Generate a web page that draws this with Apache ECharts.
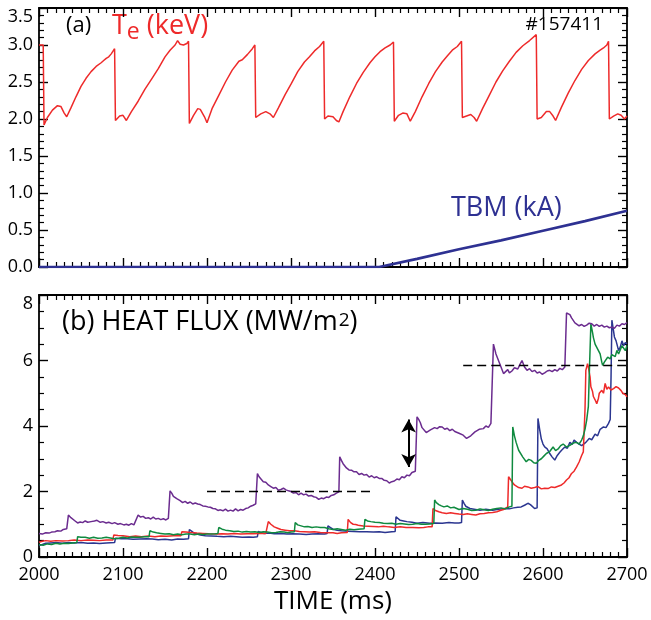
<!DOCTYPE html>
<html>
<head>
<meta charset="utf-8">
<script src="https://cdn.jsdelivr.net/npm/echarts@6/dist/echarts.min.js"></script>
<style>html,body{margin:0;padding:0;background:#fff}#chart{width:651px;height:620px}</style>
</head>
<body>
<div id="chart"></div>
<script>
// ---------- DATA ----------
const teData = [[2000,3.0],[2005,3.0],[2006,1.92],[2010,2.02],[2016,2.12],[2022,2.18],[2026,2.17],[2030,2.08],[2033,2.03],[2038,2.15],[2044,2.3],[2050,2.44],[2056,2.55],[2062,2.64],[2068,2.71],[2074,2.76],[2077,2.79],[2080,2.82],[2083,2.84],[2086,2.88],[2090,2.95],[2091,1.98],[2096,2.04],[2100,2.05],[2104,1.98],[2110,2.1],[2118,2.24],[2126,2.4],[2134,2.54],[2142,2.68],[2150,2.84],[2156,2.93],[2162,3.0],[2165,3.06],[2168,3.01],[2172,3.0],[2176,3.02],[2178,3.05],[2179,1.94],[2184,2.05],[2189,2.14],[2192,2.13],[2197,2.03],[2200,1.95],[2206,2.14],[2214,2.32],[2222,2.5],[2230,2.66],[2238,2.78],[2242,2.8],[2248,2.87],[2254,2.95],[2257,3.0],[2258,2.02],[2264,2.07],[2270,2.1],[2275,2.07],[2279,2.02],[2285,2.15],[2293,2.33],[2300,2.47],[2308,2.64],[2316,2.77],[2322,2.84],[2328,2.92],[2334,2.98],[2339,3.05],[2340,2.0],[2344,2.04],[2350,2.03],[2354,1.98],[2357,1.96],[2362,2.1],[2370,2.3],[2378,2.48],[2386,2.63],[2394,2.76],[2400,2.84],[2406,2.91],[2412,2.96],[2418,3.0],[2422,3.04],[2423,1.97],[2428,2.05],[2433,2.08],[2438,2.07],[2442,1.97],[2448,2.1],[2456,2.3],[2464,2.48],[2472,2.64],[2480,2.77],[2486,2.85],[2492,2.93],[2498,2.98],[2503,3.05],[2504,2.02],[2509,2.04],[2514,2.06],[2518,2.02],[2521,1.97],[2528,2.14],[2536,2.32],[2544,2.5],[2552,2.65],[2560,2.78],[2568,2.9],[2576,2.99],[2584,3.06],[2592,3.14],[2593,2.0],[2598,2.02],[2604,2.1],[2608,2.1],[2612,2.04],[2615,1.98],[2622,2.16],[2630,2.35],[2638,2.52],[2646,2.67],[2654,2.79],[2662,2.88],[2668,2.93],[2672,2.96],[2676,3.0],[2678,3.05],[2679,2.0],[2684,2.04],[2689,2.07],[2693,2.05],[2697,2.0],[2700,2.04]];

const tbmData = [[2000,0],[2100,0],[2200,0],[2300,0],[2405,0],[2450,0.11],[2500,0.24],[2550,0.36],[2600,0.49],[2650,0.62],[2700,0.76]];

const purpleData = [[2000,0.72],[2004,0.7],[2008,0.74],[2012,0.73],[2015,0.76],[2019,0.77],[2022,0.8],[2026,0.79],[2029,0.84],[2033,0.86],[2035,1.28],[2038,1.2],[2043,1.1],[2046,1.04],[2049,1.07],[2052,1.05],[2055,1.1],[2058,1.06],[2062,1.08],[2066,1.1],[2069,1.12],[2073,1.06],[2076,1.08],[2080,1.04],[2083,1.06],[2087,1.02],[2090,1.05],[2094,1.0],[2097,1.02],[2101,0.98],[2104,1.0],[2107,0.97],[2110,1.02],[2113,0.98],[2115,1.0],[2118,1.28],[2121,1.22],[2124,1.24],[2127,1.18],[2130,1.2],[2133,1.16],[2136,1.22],[2139,1.16],[2142,1.18],[2145,1.14],[2148,1.17],[2151,1.13],[2154,1.18],[2156,2.02],[2158,1.95],[2160,1.85],[2164,1.78],[2166,1.72],[2168,1.72],[2171,1.66],[2174,1.7],[2177,1.64],[2180,1.68],[2183,1.62],[2186,1.65],[2189,1.62],[2192,1.6],[2195,1.56],[2198,1.55],[2201,1.53],[2204,1.52],[2207,1.48],[2210,1.47],[2213,1.42],[2216,1.44],[2219,1.41],[2222,1.46],[2225,1.4],[2228,1.43],[2231,1.4],[2234,1.47],[2237,1.41],[2240,1.45],[2243,1.43],[2246,1.48],[2249,1.5],[2252,1.55],[2255,1.58],[2258,1.62],[2260,2.55],[2262,2.45],[2264,2.4],[2267,2.3],[2270,2.28],[2273,2.2],[2276,2.15],[2279,2.1],[2282,2.12],[2285,2.04],[2288,2.06],[2291,2.1],[2294,2.05],[2297,2.02],[2300,2.0],[2303,1.95],[2306,1.97],[2309,1.9],[2312,1.95],[2315,1.9],[2318,1.92],[2321,1.86],[2324,1.88],[2327,1.84],[2330,1.82],[2333,1.76],[2336,1.8],[2339,1.78],[2342,1.83],[2345,1.82],[2348,1.88],[2351,1.9],[2354,1.95],[2357,1.99],[2358,3.06],[2360,2.95],[2362,2.85],[2366,2.72],[2369,2.66],[2372,2.65],[2375,2.6],[2378,2.6],[2381,2.52],[2384,2.55],[2387,2.5],[2390,2.52],[2393,2.44],[2396,2.48],[2399,2.42],[2402,2.45],[2405,2.4],[2408,2.4],[2411,2.34],[2414,2.33],[2417,2.26],[2420,2.3],[2423,2.32],[2426,2.38],[2429,2.36],[2432,2.45],[2435,2.42],[2438,2.5],[2441,2.48],[2444,2.58],[2446,2.52],[2448,2.62],[2450,4.28],[2452,4.2],[2454,4.1],[2456,3.95],[2458,3.9],[2461,3.8],[2463,3.77],[2466,3.88],[2468,3.85],[2471,3.95],[2474,3.92],[2477,3.98],[2480,3.97],[2483,3.9],[2486,3.93],[2489,3.86],[2492,3.9],[2495,3.83],[2497,3.87],[2500,3.78],[2502,3.75],[2505,3.72],[2507,3.68],[2509,3.62],[2511,3.6],[2514,3.7],[2516,3.75],[2519,3.82],[2521,3.88],[2524,3.9],[2526,3.95],[2529,3.92],[2532,4.0],[2535,3.96],[2538,4.08],[2540,4.05],[2541,6.5],[2543,6.3],[2544,6.2],[2547,6.0],[2549,5.95],[2550,5.8],[2553,5.6],[2555,5.66],[2558,5.72],[2560,5.62],[2563,5.68],[2566,5.78],[2568,5.82],[2570,5.74],[2572,5.85],[2575,6.0],[2578,5.8],[2581,5.7],[2584,5.75],[2587,5.66],[2590,5.7],[2593,5.62],[2596,5.65],[2599,5.58],[2602,5.62],[2605,5.68],[2608,5.7],[2611,5.66],[2614,5.72],[2617,5.68],[2620,5.76],[2623,5.72],[2626,5.8],[2628,7.45],[2630,7.42],[2632,7.4],[2634,7.3],[2636,7.25],[2638,7.15],[2640,7.12],[2643,7.06],[2646,7.1],[2649,7.04],[2652,7.08],[2655,7.14],[2658,7.12],[2661,7.05],[2664,7.1],[2667,7.04],[2670,7.08],[2673,7.02],[2676,7.05],[2679,7.0],[2682,7.02],[2685,6.98],[2688,7.08],[2691,7.05],[2694,7.12],[2697,7.1],[2700,7.16]];

const greenData = [[2000,0.38],[2005,0.36],[2010,0.4],[2015,0.38],[2020,0.42],[2025,0.4],[2030,0.42],[2035,0.41],[2040,0.43],[2045,0.44],[2046,0.62],[2050,0.6],[2055,0.6],[2060,0.57],[2065,0.6],[2070,0.57],[2075,0.58],[2080,0.6],[2085,0.58],[2090,0.56],[2095,0.57],[2100,0.6],[2105,0.58],[2110,0.61],[2115,0.6],[2120,0.6],[2125,0.62],[2131,0.62],[2132,0.8],[2136,0.76],[2140,0.74],[2145,0.72],[2150,0.7],[2155,0.71],[2160,0.68],[2165,0.7],[2170,0.68],[2175,0.7],[2180,0.7],[2185,0.68],[2190,0.7],[2195,0.69],[2200,0.7],[2205,0.7],[2210,0.71],[2213,0.72],[2214,0.9],[2218,0.85],[2222,0.82],[2227,0.8],[2232,0.78],[2237,0.79],[2242,0.76],[2247,0.78],[2252,0.76],[2257,0.77],[2262,0.75],[2267,0.77],[2272,0.76],[2277,0.74],[2282,0.75],[2287,0.77],[2292,0.76],[2296,0.74],[2300,0.76],[2304,0.77],[2305,1.05],[2308,0.98],[2312,0.95],[2316,0.92],[2320,0.93],[2325,0.9],[2330,0.92],[2335,0.9],[2340,0.9],[2345,0.86],[2350,0.84],[2355,0.86],[2360,0.84],[2365,0.82],[2370,0.85],[2375,0.83],[2380,0.85],[2387,0.86],[2388,1.15],[2391,1.1],[2395,1.08],[2400,1.06],[2405,1.05],[2410,1.03],[2415,1.02],[2420,1.03],[2425,1.0],[2430,1.02],[2435,1.01],[2440,0.99],[2445,1.0],[2450,1.02],[2455,1.0],[2460,1.0],[2465,1.01],[2470,1.02],[2471,1.74],[2473,1.66],[2476,1.6],[2479,1.56],[2482,1.53],[2486,1.56],[2490,1.5],[2494,1.52],[2500,1.45],[2505,1.48],[2510,1.46],[2515,1.42],[2520,1.43],[2525,1.47],[2530,1.44],[2535,1.42],[2540,1.46],[2545,1.48],[2550,1.5],[2555,1.47],[2560,1.53],[2563,1.55],[2564,3.97],[2566,3.7],[2568,3.5],[2571,3.26],[2573,3.2],[2576,3.05],[2578,3.0],[2580,2.91],[2583,2.98],[2586,2.95],[2589,2.88],[2592,2.86],[2595,2.95],[2598,3.0],[2601,3.08],[2604,3.16],[2608,3.22],[2612,3.36],[2615,3.25],[2618,3.3],[2621,3.4],[2624,3.45],[2628,3.36],[2632,3.41],[2636,3.48],[2640,3.5],[2643,3.45],[2646,3.57],[2648,3.7],[2650,3.9],[2652,4.18],[2654,4.6],[2655,5.5],[2657,7.12],[2659,6.85],[2660,6.7],[2662,6.5],[2664,6.45],[2666,6.3],[2668,6.2],[2670,5.95],[2671,5.85],[2673,5.95],[2675,6.0],[2677,6.1],[2680,6.05],[2682,6.18],[2684,6.2],[2686,6.12],[2688,6.31],[2690,6.2],[2692,6.25],[2694,6.45],[2696,6.4],[2698,6.3],[2700,6.46]];

const redData = [[2000,0.45],[2004,0.48],[2008,0.5],[2014,0.48],[2020,0.5],[2028,0.49],[2035,0.5],[2042,0.52],[2050,0.5],[2058,0.52],[2065,0.51],[2072,0.5],[2080,0.52],[2088,0.52],[2089,0.67],[2094,0.66],[2100,0.65],[2108,0.62],[2115,0.64],[2122,0.62],[2130,0.64],[2138,0.62],[2145,0.64],[2152,0.63],[2160,0.65],[2169,0.65],[2170,0.77],[2175,0.76],[2180,0.75],[2188,0.73],[2195,0.72],[2202,0.71],[2210,0.7],[2218,0.71],[2225,0.7],[2232,0.72],[2240,0.7],[2248,0.71],[2255,0.71],[2262,0.72],[2270,0.72],[2272,0.73],[2273,1.08],[2276,1.0],[2280,0.92],[2284,0.88],[2288,0.84],[2293,0.82],[2298,0.8],[2304,0.8],[2310,0.78],[2316,0.77],[2322,0.76],[2328,0.77],[2335,0.75],[2342,0.74],[2350,0.74],[2355,0.72],[2360,0.74],[2367,0.75],[2368,1.15],[2371,1.05],[2374,1.0],[2377,0.99],[2380,0.97],[2386,0.95],[2392,0.94],[2398,0.93],[2404,0.92],[2410,0.94],[2416,0.92],[2423,0.9],[2430,0.92],[2437,0.9],[2445,0.9],[2452,0.89],[2458,0.9],[2463,0.92],[2468,0.92],[2469,1.48],[2472,1.42],[2476,1.38],[2480,1.35],[2485,1.33],[2490,1.35],[2495,1.33],[2500,1.31],[2505,1.3],[2510,1.32],[2515,1.3],[2520,1.28],[2525,1.32],[2530,1.33],[2535,1.35],[2540,1.36],[2545,1.38],[2549,1.42],[2553,1.45],[2558,1.53],[2559,2.45],[2561,2.4],[2563,2.3],[2566,2.2],[2568,2.14],[2571,2.12],[2575,2.1],[2578,2.16],[2582,2.14],[2586,2.1],[2590,2.12],[2594,2.15],[2598,2.08],[2602,2.1],[2606,2.09],[2610,2.14],[2614,2.12],[2618,2.16],[2622,2.2],[2625,2.26],[2628,2.35],[2631,2.42],[2634,2.55],[2637,2.62],[2640,2.75],[2643,2.9],[2646,3.1],[2648,3.21],[2650,4.5],[2651,5.7],[2653,5.9],[2654,5.8],[2656,5.5],[2657,5.2],[2659,5.05],[2660,4.9],[2662,4.8],[2664,4.68],[2666,4.85],[2667,5.0],[2670,5.09],[2672,5.0],[2674,5.3],[2676,5.12],[2678,5.19],[2681,5.1],[2684,5.14],[2687,5.2],[2690,5.16],[2693,5.08],[2695,5.0],[2698,4.96],[2700,4.89]];

const blueData = [[2000,0.35],[2004,0.38],[2008,0.42],[2014,0.43],[2020,0.44],[2028,0.42],[2035,0.44],[2042,0.43],[2050,0.44],[2058,0.42],[2065,0.43],[2072,0.41],[2080,0.43],[2090,0.44],[2091,0.57],[2098,0.56],[2105,0.56],[2112,0.54],[2120,0.55],[2128,0.56],[2135,0.55],[2142,0.53],[2150,0.54],[2158,0.52],[2165,0.55],[2172,0.54],[2178,0.56],[2179,0.84],[2182,0.78],[2185,0.72],[2188,0.7],[2192,0.67],[2198,0.65],[2205,0.64],[2212,0.63],[2220,0.62],[2228,0.63],[2235,0.62],[2242,0.6],[2250,0.61],[2255,0.6],[2260,0.62],[2261,0.78],[2264,0.75],[2268,0.72],[2274,0.73],[2280,0.71],[2288,0.72],[2295,0.7],[2302,0.71],[2310,0.7],[2318,0.69],[2325,0.7],[2332,0.71],[2340,0.7],[2343,0.72],[2344,0.95],[2347,0.9],[2350,0.85],[2355,0.82],[2360,0.8],[2368,0.79],[2375,0.78],[2382,0.77],[2390,0.77],[2398,0.76],[2405,0.77],[2412,0.75],[2420,0.77],[2424,0.78],[2425,1.23],[2427,1.18],[2430,1.12],[2434,1.1],[2438,1.08],[2444,1.06],[2450,1.03],[2457,1.05],[2465,1.03],[2472,1.04],[2480,1.03],[2488,1.05],[2495,1.04],[2500,1.04],[2503,1.05],[2504,1.74],[2506,1.64],[2508,1.55],[2510,1.52],[2513,1.48],[2518,1.46],[2525,1.43],[2532,1.46],[2540,1.43],[2547,1.46],[2555,1.48],[2560,1.47],[2565,1.5],[2570,1.52],[2574,1.53],[2578,1.58],[2582,1.64],[2585,1.6],[2587,1.55],[2590,1.48],[2593,1.5],[2594,4.23],[2596,3.9],[2598,3.6],[2600,3.45],[2602,3.36],[2605,3.3],[2608,3.16],[2611,3.05],[2614,2.96],[2617,3.1],[2620,3.2],[2623,3.28],[2626,3.36],[2629,3.32],[2632,3.5],[2635,3.44],[2637,3.57],[2640,3.5],[2643,3.45],[2646,3.4],[2648,3.36],[2651,3.5],[2655,3.62],[2658,3.58],[2662,3.75],[2665,3.7],[2668,3.9],[2670,3.85],[2672,3.97],[2675,3.95],[2678,4.08],[2680,4.2],[2681,5.5],[2682,7.23],[2684,6.9],[2685,6.72],[2687,6.6],[2688,6.5],[2690,6.3],[2692,6.41],[2694,6.6],[2696,6.45],[2698,6.55],[2700,6.51]];

const dashLow = [[2200,2.0],[2395,2.0]];
const dashHigh = [[2505,5.85],[2700,5.85]];
const arrowEnds = [[2440,2.75],[2440,4.2]];

// ---------- STYLE ----------
const FONT = '"Open Sans", "Noto Sans", sans-serif';
const C_RED = '#ee2a2a', C_NAVY = '#2e3192', C_PURPLE = '#6b2c8f', C_GREEN = '#0f8a3f', C_BLUE = '#2b3690';

function xAx(gridIndex, pos, showLabel, name) {
  return {
    type: 'value', gridIndex, position: pos, min: 2000, max: 2700, interval: 100,
    axisLine: { show: true, onZero: false, lineStyle: { color: '#000', width: 1.8 } },
    axisTick: { show: true, inside: true, length: 9, lineStyle: { color: '#000', width: 1.4 } },
    minorTick: { show: true, splitNumber: 10, length: 5, lineStyle: { color: '#000', width: 1.2 } },
    splitLine: { show: false }, minorSplitLine: { show: false },
    axisLabel: { show: showLabel, color: '#000', fontFamily: FONT, fontSize: 18, margin: 9,
      formatter: v => String(v) },
    name: name || '', nameLocation: 'middle', nameGap: 32,
    nameTextStyle: { color: '#000', fontFamily: FONT, fontSize: 26 }
  };
}
function yAx(gridIndex, pos, showLabel, min, max, interval, minorSplit, fmt) {
  return {
    type: 'value', gridIndex, position: pos, min, max, interval,
    axisLine: { show: true, onZero: false, lineStyle: { color: '#000', width: 1.8 } },
    axisTick: { show: true, inside: true, length: 9, lineStyle: { color: '#000', width: 1.4 } },
    minorTick: { show: true, splitNumber: minorSplit, length: 5, lineStyle: { color: '#000', width: 1.2 } },
    splitLine: { show: false }, minorSplitLine: { show: false },
    axisLabel: { show: showLabel, color: '#000', fontFamily: FONT, fontSize: 18, margin: 6,
      formatter: fmt, verticalAlignMaxLabel: 'top' }
  };
}
function line(data, color, width, xi, yi, extra) {
  return Object.assign({
    type: 'line', data, xAxisIndex: xi, yAxisIndex: yi, showSymbol: false, symbol: 'none',
    lineStyle: { color, width }, itemStyle: { color }, z: 3, silent: true, animation: false
  }, extra || {});
}

const chart = echarts.init(document.getElementById('chart'), null, { renderer: 'canvas' });
chart.setOption({
  backgroundColor: '#fff',
  animation: false,
  grid: [
    { left: 39, right: 24, top: 8, height: 259, containLabel: false, outerBoundsMode: 'none' },
    { left: 39, right: 24, top: 295, height: 262, containLabel: false, outerBoundsMode: 'none' }
  ],
  xAxis: [
    xAx(0, 'bottom', false),
    xAx(0, 'top', false),
    xAx(1, 'bottom', true, 'TIME (ms)'),
    xAx(1, 'top', false)
  ],
  yAxis: [
    yAx(0, 'left', true, 0, 3.5, 0.5, 5, v => v.toFixed(1)),
    yAx(0, 'right', false, 0, 3.5, 0.5, 5),
    yAx(1, 'left', true, 0, 8, 2, 4, v => String(v)),
    yAx(1, 'right', false, 0, 8, 2, 4)
  ],
  series: [
    line(teData, C_RED, 1.5, 0, 0),
    line(tbmData, C_NAVY, 2.6, 0, 0),
    line(blueData, C_BLUE, 1.5, 2, 2),
    line(redData, C_RED, 1.5, 2, 2),
    line(greenData, C_GREEN, 1.5, 2, 2),
    line(purpleData, C_PURPLE, 1.5, 2, 2, {
      markLine: {
        silent: true, symbol: ['arrow', 'arrow'], symbolSize: [11, 13],
        lineStyle: { color: '#000', width: 2, type: 'solid' }, label: { show: false },
        data: [[{ coord: arrowEnds[0] }, { coord: arrowEnds[1] }]]
      }
    }),
    line(dashLow, '#000', 1.5, 2, 2, { lineStyle: { color: '#000', width: 1.5, type: [9, 5] }, z: 4 }),
    line(dashHigh, '#000', 1.5, 2, 2, { lineStyle: { color: '#000', width: 1.5, type: [9, 5] }, z: 4 })
  ],
  graphic: [
    { type: 'text', left: 66, top: 15, style: { text: '(a)', font: '22px ' + FONT, fill: '#000' } },
    { type: 'text', left: 112, top: 13, style: {
        text: '{t|T}{s|e}{t| (keV)}', fill: C_RED,
        rich: { t: { fontSize: 27, fontFamily: FONT, fill: C_RED, lineHeight: 40, verticalAlign: 'middle' },
                s: { fontSize: 23, fontFamily: FONT, fill: C_RED, verticalAlign: 'middle', padding: [12, 0, 0, 0] } } } },
    { type: 'text', right: 48, top: 15, style: { text: '#157411', font: '19px ' + FONT, fill: '#000' } },
    { type: 'text', left: 451, top: 195, style: { text: 'TBM (kA)', font: '27px ' + FONT, fill: C_NAVY } },
    { type: 'text', left: 62, top: 309, style: {
        text: '{a|(b) HEAT FLUX (MW/m}{b|2}{a|)}', fill: '#000',
        rich: { a: { fontSize: 27, fontFamily: FONT, fill: '#000', lineHeight: 34, verticalAlign: 'middle' },
                b: { fontSize: 19, fontFamily: FONT, fill: '#000', verticalAlign: 'middle', padding: [0, 0, 4, 1] } } } }
  ]
});
</script>
</body>
</html>
